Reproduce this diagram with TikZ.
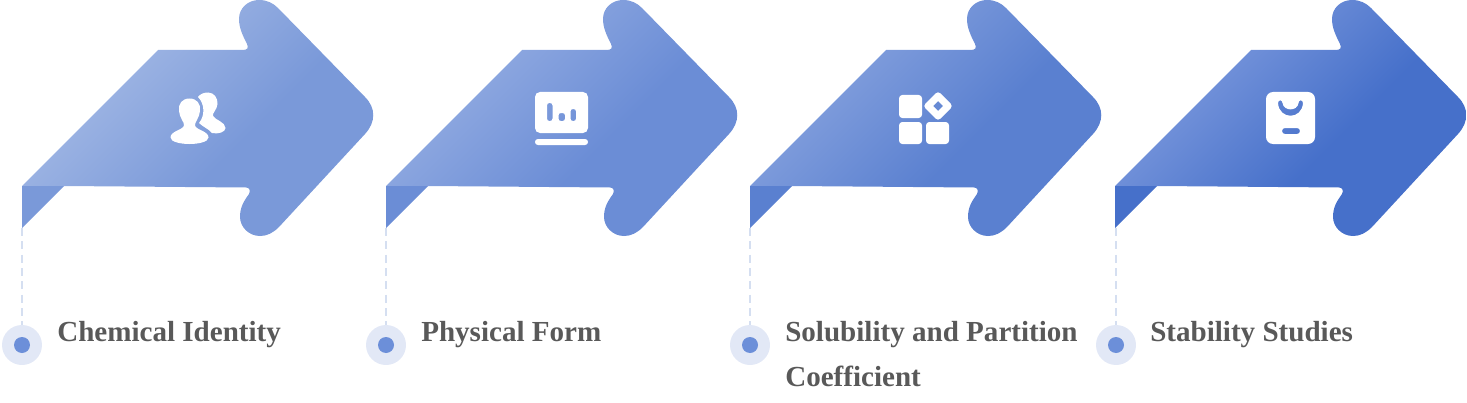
\documentclass[tikz,border=0pt]{standalone}
\usepackage{fontspec}
\setmainfont{Liberation Serif}
\definecolor{ta}{HTML}{9DB4E3}\definecolor{tb}{HTML}{7A99D9}
\definecolor{ua}{HTML}{8EA8E0}\definecolor{ub}{HTML}{6B8DD6}
\definecolor{va}{HTML}{809DDC}\definecolor{vb}{HTML}{5A80D0}
\definecolor{wa}{HTML}{7493DA}\definecolor{wb}{HTML}{4670CA}
\definecolor{dashc}{HTML}{D5DFF1}
\definecolor{halo}{HTML}{E2E8F6}
\definecolor{core}{HTML}{6C8FD9}
\definecolor{labelc}{HTML}{595959}
\pgfdeclareverticalshading{bodya}{100bp}{color(0bp)=(tb); color(42bp)=(tb); color(66bp)=(ta); color(100bp)=(ta)}
\pgfdeclareverticalshading{bodyb}{100bp}{color(0bp)=(ub); color(42bp)=(ub); color(66bp)=(ua); color(100bp)=(ua)}
\pgfdeclareverticalshading{bodyc}{100bp}{color(0bp)=(vb); color(42bp)=(vb); color(66bp)=(va); color(100bp)=(va)}
\pgfdeclareverticalshading{bodyd}{100bp}{color(0bp)=(wb); color(42bp)=(wb); color(66bp)=(wa); color(100bp)=(wa)}
\tikzset{
  x=0.75pt,y=-0.75pt,
  halodot/.style={circle,fill=halo,draw=none,minimum size=30pt,inner sep=0pt},
  coredot/.style={circle,fill=core,draw=none,minimum size=12pt,inner sep=0pt},
  lead/.style={draw=dashc,line width=1.1pt,dash pattern=on 6pt off 4pt},
  caption/.style={font=\fontsize{21.8}{33.75}\selectfont\bfseries,text=labelc,inner sep=0pt,anchor=base west,align=left},
  iconfill/.style={fill=white,draw=none,even odd rule},
}
\newcommand{\ArrowBody}[2]{%
\begin{scope}[shift={(#1,0)}]
  \shade[shading=#2,shading angle=45]
   (22,186) -- (158,50) -- (243,50)
   .. controls (247,50) and (249,48) .. (247,44)
   .. controls (243,36) and (239,28) .. (239,19)
   .. controls (239,8) and (248,0) .. (259,0)
   .. controls (267,0) and (273,3) .. (278,8)
   -- (365,97)
   .. controls (376,108) and (376,122) .. (365,134)
   -- (279,227)
   .. controls (273,233) and (267,236) .. (260,236)
   .. controls (249,236) and (240,227) .. (240,217)
   .. controls (240,207) and (244,201) .. (249,194)
   .. controls (251,190) and (249,187.5) .. (246,187.5)
   -- (64,186) -- cycle;
\end{scope}}
\begin{document}
\begin{tikzpicture}
\useasboundingbox (0,0) rectangle (1467,403);
% arrow bodies
\ArrowBody{0}{bodya}
\ArrowBody{364}{bodyb}
\ArrowBody{728}{bodyc}
\ArrowBody{1093}{bodyd}
% folded flaps
\fill[tb] (22,186) -- (64,186) -- (22,228) -- cycle;
\fill[ub] (386,186) -- (428,186) -- (386,228) -- cycle;
\fill[vb] (750,186) -- (792,186) -- (750,228) -- cycle;
\fill[wb] (1115,186) -- (1157,186) -- (1115,228) -- cycle;
% flap tips
\coordinate (tipa) at (22,228);
\coordinate (tipb) at (386,228);
\coordinate (tipc) at (750,228);
\coordinate (tipd) at (1116,228);
% dots
\node[halodot] (dota) at (22,345) {};
\node[halodot] (dotb) at (386,345) {};
\node[halodot] (dotc) at (750,345) {};
\node[halodot] (dotd) at (1116,345) {};
\node[coredot] (corea) at (22,345) {};
\node[coredot] (coreb) at (386,345) {};
\node[coredot] (corec) at (750,345) {};
\node[coredot] (cored) at (1116,345) {};
% leaders
\draw[lead] (tipa) -- (dota);
\draw[lead] (tipb) -- (dotb);
\draw[lead] (tipc) -- (dotc);
\draw[lead] (tipd) -- (dotd);
% labels
\node[caption] (laba) at (57,341) {Chemical Identity};
\node[caption] (labb) at (421,341) {Physical Form};
\node[caption] (labc) at (785,386) {Solubility and Partition\\Coefficient};
\node[caption] (labd) at (1150,341) {Stability Studies};
% icon 1: people
\fill[iconfill] (208,92.5) .. controls (214,92.5) and (218,98) .. (217.5,104)
  .. controls (217,110) and (212,113) .. (213,116)
  .. controls (215,120) and (225.5,122) .. (225.5,128)
  .. controls (225.5,132) and (218,134.5) .. (212,133)
  .. controls (209,129) and (203,127) .. (199,123)
  .. controls (205,116) and (205,104) .. (198,97)
  .. controls (200,94) and (204,92.5) .. (208,92.5) -- cycle;
\fill[iconfill] (189.5,98.5) .. controls (197,98.5) and (201,104) .. (200,111)
  .. controls (199.5,118) and (194.5,122) .. (195,125.5)
  .. controls (196,130) and (208.5,131) .. (208.5,137.5)
  .. controls (208.5,142) and (198,144) .. (189.5,144)
  .. controls (181,144) and (170.5,142) .. (170.5,137.5)
  .. controls (170.5,131) and (183,130) .. (184,125.5)
  .. controls (184.5,122) and (179.5,118) .. (179,111)
  .. controls (178,104) and (182,98.5) .. (189.5,98.5) -- cycle;
% icon 2: monitor
\fill[iconfill,rounded corners=3.75pt] (535,92) rectangle (588,133)
  [rounded corners=1.8pt] (547,103) rectangle (552.5,121)
  (558.5,113) rectangle (565,121)
  (570.5,109) rectangle (576,121);
\fill[iconfill,rounded corners=2.2pt] (535,139) rectangle (588,145);
% icon 3: tiles
\fill[iconfill,rounded corners=2.5pt] (899,95) rectangle (922,118);
\fill[iconfill,rounded corners=2.5pt] (899,122) rectangle (922,144);
\fill[iconfill,rounded corners=2.5pt] (926,122) rectangle (949,144);
\fill[iconfill,rounded corners=2.5pt] (938,91) -- (953,106) -- (938,121) -- (923,106) -- cycle
  [sharp corners] (938,101) -- (943,106) -- (938,111) -- (933,106) -- cycle;
% icon 4: bag
\fill[iconfill,rounded corners=5.25pt] (1266,92) rectangle (1315,144)
  [sharp corners] (1278,103)
  .. controls (1278,99.5) and (1282.5,99.5) .. (1282.5,103)
  .. controls (1283.5,111.5) and (1297.5,111.5) .. (1298.5,103)
  .. controls (1298.5,99.5) and (1303,99.5) .. (1303,103)
  .. controls (1302,120) and (1279,120) .. (1278,103) -- cycle
  [rounded corners=2.2pt] (1282,128) rectangle (1300,134);
\end{tikzpicture}
\end{document}
